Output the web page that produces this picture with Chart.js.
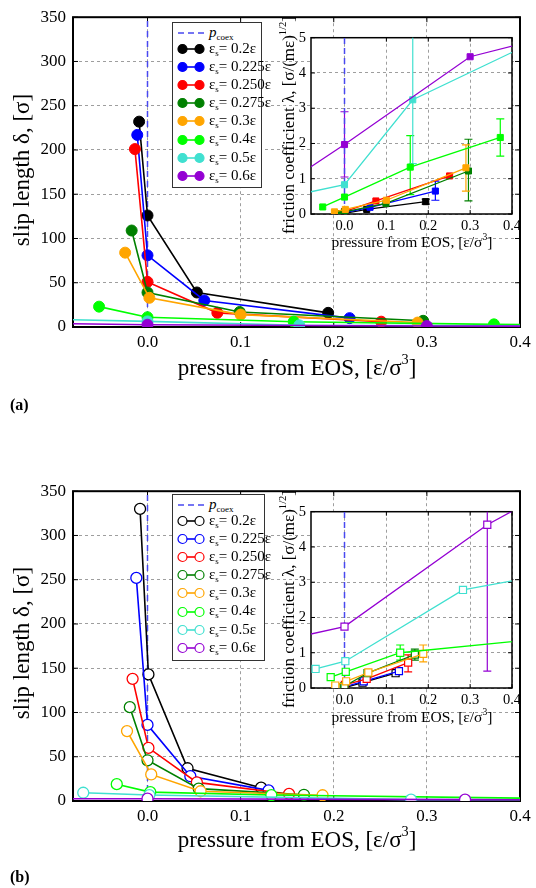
<!DOCTYPE html>
<html>
<head>
<meta charset="utf-8">
<script src="https://cdn.jsdelivr.net/npm/chart.js@4.4.1/dist/chart.umd.min.js"></script>
<style>
  body { margin: 0; background: #fff; }
  #page { position: relative; width: 536px; height: 888px; overflow: hidden;
          font-family: 'Liberation Serif', 'DejaVu Serif', serif; color: #000; }
  canvas { position: absolute; }
  .title { position: absolute; white-space: nowrap; transform: translate(-50%, -50%); }
  .ytitle { position: absolute; white-space: nowrap; transform: translate(-50%, -50%) rotate(-90deg); }
  .title sup, .ytitle sup { font-size: 0.62em; vertical-align: 0.75em; }
  .panel { position: absolute; font-weight: bold; font-size: 16px; }
  .legend { position: absolute; border: 1.5px solid #333; background: #fff; box-sizing: border-box; }
  .legend .row { position: absolute; left: 4px; height: 16px; display: flex; align-items: center; font-size: 15px; white-space: nowrap; }
  .legend svg { margin-right: 4px; }
  .legend sub { font-size: 0.6em; vertical-align: -0.35em; }
</style>
</head>
<body>
<div id="page">
  <canvas id="mainA" width="536" height="355" style="left:0;top:0"></canvas>
  <canvas id="insetA" width="245" height="215" style="left:280px;top:24px"></canvas>
  <div class="legend" id="legendA" style="left:172px;top:22px;width:90px;height:166px"></div>
  <div class="ytitle" style="left:22px;top:170px;font-size:23px">slip length δ, [σ]</div>
  <div class="title" style="left:297px;top:366px;font-size:23px">pressure from EOS, [ε/σ<sup>3</sup>]</div>
  <div class="ytitle" style="left:288px;top:125px;font-size:17px">friction coefficient λ, [σ/(mε)<sup>1/2</sup>]</div>
  <div class="title" style="left:412px;top:241px;font-size:15.5px">pressure from EOS, [ε/σ<sup>3</sup>]</div>
  <div class="panel" style="left:10px;top:396px">(a)</div>

  <canvas id="mainB" width="536" height="355" style="left:0;top:474px"></canvas>
  <canvas id="insetB" width="245" height="215" style="left:280px;top:498px"></canvas>
  <div class="legend" id="legendB" style="left:172px;top:494px;width:93px;height:167px"></div>
  <div class="ytitle" style="left:22px;top:643px;font-size:23px">slip length δ, [σ]</div>
  <div class="title" style="left:297px;top:838px;font-size:23px">pressure from EOS, [ε/σ<sup>3</sup>]</div>
  <div class="ytitle" style="left:288px;top:599px;font-size:17px">friction coefficient λ, [σ/(mε)<sup>1/2</sup>]</div>
  <div class="title" style="left:412px;top:716px;font-size:15.5px">pressure from EOS, [ε/σ<sup>3</sup>]</div>
  <div class="panel" style="left:10px;top:868px">(b)</div>
</div>

<script>
// series: wall-fluid interaction ε_s
const seriesLabels = ['0.2', '0.225', '0.250', '0.275', '0.3', '0.4', '0.5', '0.6'];
const seriesColors = ['#000000', '#0000ff', '#ff0000', '#008000', '#ffa500', '#00ff00', '#40e0d0', '#9400d3'];
const coexColor = '#4848f0';

// tick labels
const pressureTicks = [0.0, 0.1, 0.2, 0.3, 0.4];
const slipTicks = [0, 50, 100, 150, 200, 250, 300, 350];
const frictionTicks = [0, 1, 2, 3, 4, 5];

// panel (a): pressure, slip length, friction coefficient (one row per ε_s)
// points outside -0.08..0.4 only carry the lines to the frame
const pressureA = [
  [-0.009, 0.0, 0.053, 0.194],
  [-0.011, 0.0, 0.061, 0.217],
  [-0.0135, 0.0, 0.075, 0.251],
  [-0.017, 0.0, 0.099, 0.296],
  [-0.024, 0.002, 0.1, 0.29],
  [-0.052, 0.0, 0.157, 0.372, 0.45],
  [-0.1, 0.0, 0.163, 0.5],
  [-0.1, 0.0, 0.3, 0.5]
];
const slipA = [
  [232, 126, 39, 16],
  [217, 81, 30, 10],
  [201, 51, 16, 6],
  [109, 39, 17, 7],
  [84, 33, 14, 5],
  [23, 11, 6, 3, 2.7],
  [8.7, 6.3, 1.9, 1.2],
  [4.0, 2.6, 1.1, 0.9]
];
const frictionA = [
  [0.0, 0.02, 0.13, 0.35],
  [0.0, 0.04, 0.19, 0.65],
  [0.0, 0.07, 0.37, 1.08],
  [0.01, 0.06, 0.30, 1.22],
  [0.06, 0.13, 0.39, 1.31],
  [0.2, 0.48, 1.33, 2.17, null],
  [0.58, 0.83, 3.24, 5.15],
  [1.18, 1.97, 4.46, 5.06]
];
// error bars [low, high] on friction coefficient
const frictionErrA = [
  [null, null, null, [0.28, 0.42]],
  [null, null, null, [0.39, 0.93]],
  [null, null, null, null],
  [null, null, null, [0.37, 2.12]],
  [null, null, null, [0.65, 1.96]],
  [null, null, [0.55, 2.22], [1.64, 2.70], null],
  [null, null, [1.43, 5.6], null],
  [null, [1.05, 2.90], null, null]
];

// panel (b)
const pressureB = [
  [-0.008, 0.001, 0.043, 0.122],
  [-0.012, 0.0, 0.046, 0.13],
  [-0.016, 0.001, 0.053, 0.152],
  [-0.019, 0.0, 0.055, 0.168],
  [-0.022, 0.004, 0.057, 0.188],
  [-0.033, 0.003, 0.133, 0.5],
  [-0.069, 0.002, 0.283, 0.5],
  [-0.1, 0.0, 0.341, 0.5]
];
const slipB = [
  [330, 143, 37, 15],
  [252, 86, 28, 12],
  [138, 60, 21, 8],
  [106, 46, 14, 7],
  [79, 30, 11, 6.5],
  [19, 10, 6.7, 2.0],
  [9.3, 6.7, 1.5, 1.3],
  [2.5, 2.6, 1.5, 1.4]
];
const frictionB = [
  [0.0, 0.01, 0.15, 0.42],
  [0.0, 0.03, 0.19, 0.48],
  [0.0, 0.09, 0.26, 0.72],
  [0.01, 0.05, 0.42, 0.95],
  [0.07, 0.19, 0.44, 0.97],
  [0.31, 0.46, 1.0, 1.43],
  [0.54, 0.76, 2.78, 3.26],
  [1.48, 1.74, 4.63, 5.66]
];
const frictionErrB = [
  [null, null, null, null],
  [null, null, null, null],
  [null, null, null, [0.46, 0.94]],
  [null, null, null, [0.79, 1.10]],
  [null, null, null, [0.74, 1.22]],
  [null, null, [0.79, 1.22], null],
  [null, null, null, null],
  [null, null, [0.48, 5.6], null]
];

Chart.defaults.font.family = "'Liberation Serif', 'DejaVu Serif', serif";
Chart.defaults.color = '#000';

// white plot background, frame and inward ticks
const framePlugin = {
  id: 'frame',
  beforeDraw(chart, args, opts) {
    if (!opts.fill) return;
    const a = chart.chartArea;
    chart.ctx.fillStyle = opts.fill;
    chart.ctx.fillRect(a.left, a.top, a.width, a.height);
  },
  beforeDatasetsDraw(chart, args, opts) {
    const { ctx, chartArea: a, scales: { x, y } } = chart;
    const len = opts.tick || 0;
    ctx.save();
    ctx.strokeStyle = '#000';
    ctx.lineWidth = 1;
    ctx.beginPath();
    x.ticks.forEach(t => {
      const px = x.getPixelForValue(t.value);
      ctx.moveTo(px, a.bottom); ctx.lineTo(px, a.bottom - len);
      ctx.moveTo(px, a.top); ctx.lineTo(px, a.top + len);
    });
    y.ticks.forEach(t => {
      const py = y.getPixelForValue(t.value);
      ctx.moveTo(a.left, py); ctx.lineTo(a.left + len, py);
      ctx.moveTo(a.right, py); ctx.lineTo(a.right - len, py);
    });
    ctx.stroke();
    ctx.lineWidth = opts.width || 2;
    ctx.strokeRect(a.left, a.top, a.width, a.height);
    ctx.restore();
  }
};

// vertical error bars with caps, drawn under the markers
const errorBarPlugin = {
  id: 'errorBars',
  beforeDatasetsDraw(chart, args, opts) {
    const rows = opts.rows;
    if (!rows) return;
    const { ctx, chartArea: a, scales: { x, y } } = chart;
    ctx.save();
    ctx.beginPath();
    ctx.rect(a.left, a.top, a.width, a.height);
    ctx.clip();
    ctx.lineWidth = 1.2;
    chart.data.datasets.forEach((ds, i) => {
      const row = rows[i];
      if (!row) return;
      ctx.strokeStyle = ds.borderColor;
      row.forEach((e, j) => {
        if (!e) return;
        const px = x.getPixelForValue(ds.data[j].x);
        const lo = y.getPixelForValue(e[0]);
        const hi = y.getPixelForValue(e[1]);
        ctx.beginPath();
        ctx.moveTo(px, lo); ctx.lineTo(px, hi);
        ctx.moveTo(px - 4, lo); ctx.lineTo(px + 4, lo);
        ctx.moveTo(px - 4, hi); ctx.lineTo(px + 4, hi);
        ctx.stroke();
      });
    });
    ctx.restore();
  }
};

function seriesSets(pressure, values, style) {
  return seriesLabels.map((lab, i) => ({
    label: 'εs = ' + lab + 'ε',
    data: pressure[i].map((p, j) => ({ x: p, y: values[i][j] })),
    borderColor: seriesColors[i],
    backgroundColor: seriesColors[i],
    borderWidth: style.line,
    pointStyle: style.point,
    pointRadius: style.radius,
    pointBorderWidth: style.pointBorder,
    pointBackgroundColor: style.filled ? seriesColors[i] : '#fff',
    pointBorderColor: seriesColors[i],
    order: 10 - i
  }));
}

function coexSet(top, width) {
  return {
    label: 'p_coex',
    data: [{ x: 0, y: 0 }, { x: 0, y: top }],
    borderColor: coexColor,
    borderWidth: width,
    borderDash: [6, 4],
    pointRadius: 0,
    order: 50
  };
}

function axis(min, max, ticks, fmt, size, pad, fit) {
  return {
    type: 'linear', min: min, max: max,
    afterBuildTicks: s => { s.ticks = ticks.map(v => ({ value: v })); },
    afterFit: fit,
    ticks: { callback: fmt, font: { size: size }, padding: pad, maxRotation: 0, color: '#000' },
    grid: { drawTicks: false, color: 'rgba(0,0,0,0.38)', lineWidth: 1 },
    border: { display: false, dash: [3, 3] }
  };
}

function makeMain(id, pressure, slip, filled) {
  const style = filled
    ? { line: 1.6, point: 'circle', radius: 5.5, pointBorder: 1, filled: true }
    : { line: 1.6, point: 'circle', radius: 5.5, pointBorder: 1.3, filled: false };
  const datasets = seriesSets(pressure, slip, style);
  datasets.push(coexSet(350, 1.5));
  new Chart(document.getElementById(id), {
    type: 'line',
    data: { datasets: datasets },
    options: {
      responsive: false, animation: false,
      layout: { padding: { top: 12, right: 16, left: 0, bottom: 0 } },
      plugins: { legend: { display: false }, tooltip: { enabled: false }, frame: { width: 2, tick: 5 } },
      scales: {
        x: axis(-0.08, 0.4, pressureTicks, v => v.toFixed(1), 17, 5, s => { s.height = 28; }),
        y: axis(0, 350, slipTicks, v => String(v), 17, 7, s => { s.width = 73; })
      }
    },
    plugins: [framePlugin]
  });
}

function makeInset(id, pressure, friction, errs, filled) {
  const style = filled
    ? { line: 1.3, point: 'rect', radius: 4.3, pointBorder: 1, filled: true }
    : { line: 1.3, point: 'rect', radius: 5, pointBorder: 1.2, filled: false };
  const datasets = seriesSets(pressure, friction, style);
  datasets.push(coexSet(5, 1.5));
  new Chart(document.getElementById(id), {
    type: 'line',
    data: { datasets: datasets },
    options: {
      responsive: false, animation: false,
      layout: { padding: { top: 10, right: 13, left: 0, bottom: 0 } },
      plugins: {
        legend: { display: false }, tooltip: { enabled: false },
        frame: { width: 1.5, tick: 4, fill: '#fff' },
        errorBars: { rows: errs }
      },
      scales: {
        x: axis(-0.08, 0.4, pressureTicks, v => v.toFixed(1), 14.5, 3, s => { s.height = 25; }),
        y: axis(0, 5, frictionTicks, v => String(v), 14.5, 5, s => { s.width = 31; })
      }
    },
    plugins: [framePlugin, errorBarPlugin]
  });
}

function buildLegend(id, filled) {
  const box = document.getElementById(id);
  let html = '<div class="row" style="top:2px"><svg width="28" height="12">' +
    '<line x1="1" y1="6" x2="27" y2="6" stroke="' + coexColor + '" stroke-width="1.5" stroke-dasharray="6,4"/></svg>' +
    '<span><i>p</i><sub>coex</sub></span></div>';
  seriesLabels.forEach((lab, i) => {
    const c = seriesColors[i];
    const fill = filled ? c : '#fff';
    html += '<div class="row" style="top:' + (18 + i * 18.1) + 'px"><svg width="28" height="12">' +
      '<line x1="5" y1="6" x2="23" y2="6" stroke="' + c + '" stroke-width="1.6"/>' +
      '<circle cx="5.5" cy="6" r="4.5" fill="' + fill + '" stroke="' + c + '" stroke-width="1.2"/>' +
      '<circle cx="22.5" cy="6" r="4.5" fill="' + fill + '" stroke="' + c + '" stroke-width="1.2"/></svg>' +
      '<span>ε<sub>s</sub>= ' + lab + 'ε</span></div>';
  });
  box.innerHTML = html;
}

makeMain('mainA', pressureA, slipA, true);
makeInset('insetA', pressureA, frictionA, frictionErrA, true);
buildLegend('legendA', true);

makeMain('mainB', pressureB, slipB, false);
makeInset('insetB', pressureB, frictionB, frictionErrB, false);
buildLegend('legendB', false);
</script>
</body>
</html>
